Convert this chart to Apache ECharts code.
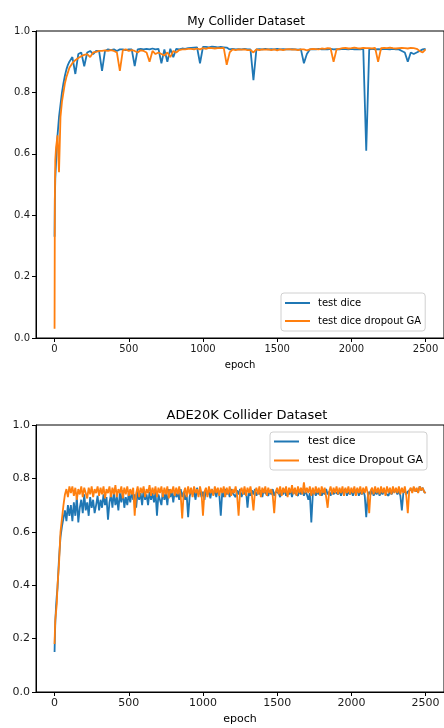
<!DOCTYPE html>
<html>
<head>
<meta charset="utf-8">
<script src="https://cdn.jsdelivr.net/npm/echarts@6/dist/echarts.min.js"></script>
<style>
  html, body { margin: 0; padding: 0; background: #fff; }
  #chart { width: 444px; height: 728px; }
</style>
</head>
<body>
<div id="chart"></div>
<script>
// My Collider Dataset: epochs sampled from the log (denser at the start)
var myEpochs = [0, 2, 5, 10, 15, 20, 30, 40, 50, 60, 70, 80, 90, 100,
  120, 140, 160, 180, 200, 220, 240, 260, 280, 300,
  320, 340, 360, 380, 400, 420, 440, 460, 480, 500,
  520, 540, 560, 580, 600, 620, 640, 660, 680, 700,
  720, 740, 760, 780, 800, 820, 840, 860, 880, 900,
  920, 940, 960, 980, 1000, 1020, 1040, 1060, 1080, 1100,
  1120, 1140, 1160, 1180, 1200, 1220, 1240, 1260, 1280, 1300,
  1320, 1340, 1360, 1380, 1400, 1420, 1440, 1460, 1480, 1500,
  1520, 1540, 1560, 1580, 1600, 1620, 1640, 1660, 1680, 1700,
  1720, 1740, 1760, 1780, 1800, 1820, 1840, 1860, 1880, 1900,
  1920, 1940, 1960, 1980, 2000, 2020, 2040, 2060, 2080, 2100,
  2120, 2140, 2160, 2180, 2200, 2220, 2240, 2260, 2280, 2300,
  2320, 2340, 2360, 2380, 2400, 2420, 2440, 2460, 2480, 2500];

var myDice = [0.33, 0.45, 0.52, 0.57, 0.62, 0.66, 0.72, 0.76, 0.80, 0.83, 0.855, 0.875, 0.89, 0.90,
  0.915, 0.86, 0.925, 0.93, 0.885, 0.93, 0.935, 0.925, 0.935, 0.935,
  0.87, 0.935, 0.94, 0.938, 0.94, 0.935, 0.94, 0.94, 0.938, 0.94,
  0.94, 0.886, 0.94, 0.942, 0.94, 0.942, 0.94, 0.943, 0.94, 0.942,
  0.895, 0.94, 0.90, 0.942, 0.915, 0.942, 0.94, 0.943, 0.942, 0.944,
  0.945, 0.946, 0.947, 0.895, 0.948, 0.948, 0.947, 0.949, 0.948, 0.947,
  0.948, 0.947, 0.946, 0.94, 0.942, 0.94, 0.941, 0.94, 0.942, 0.94,
  0.94, 0.84, 0.94, 0.941, 0.94, 0.942, 0.94, 0.941, 0.94, 0.942,
  0.94, 0.941, 0.94, 0.94, 0.941, 0.94, 0.939, 0.94, 0.895, 0.925,
  0.94, 0.941, 0.94, 0.942, 0.94, 0.941, 0.94, 0.942, 0.94, 0.941,
  0.94, 0.942, 0.941, 0.94, 0.942, 0.94, 0.941, 0.94, 0.942, 0.61,
  0.94, 0.942, 0.94, 0.941, 0.94, 0.942, 0.941, 0.94, 0.942, 0.94,
  0.94, 0.935, 0.93, 0.90, 0.93, 0.925, 0.93, 0.935, 0.94, 0.942];
var myDropout = [0.03, 0.45, 0.58, 0.62, 0.64, 0.66, 0.54, 0.72, 0.77, 0.80, 0.83, 0.85, 0.865, 0.88,
  0.895, 0.905, 0.912, 0.918, 0.922, 0.925, 0.915, 0.93, 0.932, 0.935,
  0.935, 0.937, 0.935, 0.938, 0.935, 0.93, 0.87, 0.937, 0.94, 0.935,
  0.938, 0.935, 0.93, 0.937, 0.935, 0.93, 0.90, 0.935, 0.925, 0.93,
  0.925, 0.92, 0.93, 0.915, 0.935, 0.93, 0.938, 0.94, 0.94, 0.942,
  0.942, 0.94, 0.943, 0.94, 0.944, 0.942, 0.945, 0.944, 0.943, 0.944,
  0.944, 0.945, 0.89, 0.93, 0.94, 0.938, 0.94, 0.939, 0.94, 0.938,
  0.938, 0.93, 0.94, 0.938, 0.94, 0.939, 0.94, 0.938, 0.94, 0.937,
  0.94, 0.938, 0.94, 0.941, 0.939, 0.94, 0.938, 0.94, 0.94, 0.937,
  0.94, 0.942, 0.941, 0.94, 0.943, 0.942, 0.944, 0.943, 0.90, 0.94,
  0.942, 0.944, 0.945, 0.943, 0.944, 0.946, 0.944, 0.943, 0.945, 0.944,
  0.944, 0.943, 0.945, 0.90, 0.944, 0.945, 0.944, 0.946, 0.944, 0.943,
  0.944, 0.945, 0.944, 0.943, 0.945, 0.944, 0.942, 0.935, 0.93, 0.94];

// ADE20K Collider Dataset: sampled every 10 epochs after 100
var adeEpochs = [0, 2, 5, 10, 15, 20, 30, 40, 50, 60, 70, 80, 90, 100,
  110, 120, 130, 140, 150, 160, 170, 180, 190, 200, 210, 220, 230, 240, 250, 260, 270, 280, 290, 300,
  310, 320, 330, 340, 350, 360, 370, 380, 390, 400, 410, 420, 430, 440, 450, 460, 470, 480, 490, 500,
  510, 520, 530, 540, 550, 560, 570, 580, 590, 600, 610, 620, 630, 640, 650, 660, 670, 680, 690, 700,
  710, 720, 730, 740, 750, 760, 770, 780, 790, 800, 810, 820, 830, 840, 850, 860, 870, 880, 890, 900,
  910, 920, 930, 940, 950, 960, 970, 980, 990, 1000, 1010, 1020, 1030, 1040, 1050, 1060, 1070, 1080, 1090, 1100,
  1110, 1120, 1130, 1140, 1150, 1160, 1170, 1180, 1190, 1200, 1210, 1220, 1230, 1240, 1250, 1260, 1270, 1280, 1290, 1300,
  1310, 1320, 1330, 1340, 1350, 1360, 1370, 1380, 1390, 1400, 1410, 1420, 1430, 1440, 1450, 1460, 1470, 1480, 1490, 1500,
  1510, 1520, 1530, 1540, 1550, 1560, 1570, 1580, 1590, 1600, 1610, 1620, 1630, 1640, 1650, 1660, 1670, 1680, 1690, 1700,
  1710, 1720, 1730, 1740, 1750, 1760, 1770, 1780, 1790, 1800, 1810, 1820, 1830, 1840, 1850, 1860, 1870, 1880, 1890, 1900,
  1910, 1920, 1930, 1940, 1950, 1960, 1970, 1980, 1990, 2000, 2010, 2020, 2030, 2040, 2050, 2060, 2070, 2080, 2090, 2100,
  2110, 2120, 2130, 2140, 2150, 2160, 2170, 2180, 2190, 2200, 2210, 2220, 2230, 2240, 2250, 2260, 2270, 2280, 2290, 2300,
  2310, 2320, 2330, 2340, 2350, 2360, 2370, 2380, 2390, 2400, 2410, 2420, 2430, 2440, 2450, 2460, 2470, 2480, 2490, 2500];

var adeDice = [0.15, 0.20, 0.26, 0.32, 0.36, 0.39, 0.50, 0.58, 0.62, 0.65, 0.68, 0.64, 0.70, 0.66,
  0.70, 0.64, 0.71, 0.66, 0.73, 0.635, 0.69, 0.72, 0.67, 0.74, 0.68, 0.71, 0.66, 0.73, 0.69, 0.72, 0.67, 0.70, 0.735, 0.68,
  0.72, 0.69, 0.74, 0.70, 0.73, 0.645, 0.71, 0.74, 0.69, 0.75, 0.70, 0.73, 0.68, 0.745, 0.71, 0.755, 0.69, 0.73, 0.70, 0.745,
  0.71, 0.75, 0.72, 0.74, 0.69, 0.755, 0.72, 0.745, 0.70, 0.76, 0.72, 0.74, 0.70, 0.75, 0.72, 0.745, 0.71, 0.75, 0.66, 0.74,
  0.72, 0.70, 0.755, 0.72, 0.745, 0.70, 0.76, 0.73, 0.75, 0.71, 0.755, 0.73, 0.745, 0.72, 0.76, 0.73, 0.75, 0.72, 0.74, 0.655,
  0.73, 0.76, 0.74, 0.75, 0.72, 0.765, 0.74, 0.755, 0.73, 0.75, 0.72, 0.76, 0.74, 0.75, 0.725, 0.76, 0.74, 0.755, 0.73, 0.76,
  0.74, 0.66, 0.75, 0.73, 0.76, 0.74, 0.755, 0.73, 0.76, 0.745, 0.75, 0.73, 0.755, 0.74, 0.76, 0.73, 0.75, 0.74, 0.755, 0.69,
  0.75, 0.735, 0.755, 0.74, 0.76, 0.735, 0.75, 0.74, 0.755, 0.73, 0.76, 0.745, 0.75, 0.735, 0.755, 0.74, 0.76, 0.735, 0.75, 0.745,
  0.745, 0.73, 0.755, 0.74, 0.76, 0.735, 0.75, 0.74, 0.755, 0.73, 0.76, 0.745, 0.75, 0.735, 0.755, 0.74, 0.76, 0.735, 0.75, 0.74,
  0.72, 0.745, 0.635, 0.74, 0.755, 0.735, 0.75, 0.74, 0.755, 0.735, 0.75, 0.74, 0.76, 0.74, 0.75, 0.735, 0.755, 0.74, 0.75, 0.745,
  0.74, 0.755, 0.735, 0.75, 0.745, 0.76, 0.735, 0.75, 0.74, 0.755, 0.735, 0.75, 0.745, 0.76, 0.735, 0.75, 0.74, 0.755, 0.735, 0.655,
  0.73, 0.75, 0.74, 0.755, 0.735, 0.75, 0.74, 0.755, 0.735, 0.75, 0.74, 0.755, 0.745, 0.75, 0.735, 0.755, 0.74, 0.75, 0.745, 0.755,
  0.74, 0.755, 0.735, 0.68, 0.745, 0.755, 0.74, 0.75, 0.745, 0.76, 0.75, 0.765, 0.755, 0.76, 0.75, 0.77, 0.755, 0.765, 0.75, 0.745];
var adeDropout = [0.18, 0.22, 0.27, 0.30, 0.33, 0.40, 0.48, 0.60, 0.65, 0.70, 0.74, 0.76, 0.73, 0.77,
  0.745, 0.77, 0.735, 0.765, 0.72, 0.76, 0.74, 0.77, 0.73, 0.765, 0.745, 0.725, 0.765, 0.74, 0.77, 0.73, 0.76, 0.745, 0.77, 0.735,
  0.765, 0.74, 0.77, 0.725, 0.76, 0.745, 0.77, 0.73, 0.765, 0.74, 0.775, 0.73, 0.76, 0.745, 0.77, 0.725, 0.765, 0.74, 0.77, 0.735,
  0.76, 0.74, 0.765, 0.66, 0.745, 0.77, 0.73, 0.765, 0.745, 0.77, 0.73, 0.76, 0.745, 0.775, 0.735, 0.765, 0.74, 0.77, 0.73, 0.765,
  0.745, 0.77, 0.73, 0.765, 0.74, 0.77, 0.725, 0.76, 0.745, 0.77, 0.735, 0.765, 0.74, 0.77, 0.735, 0.65, 0.745, 0.765, 0.73, 0.77,
  0.74, 0.765, 0.73, 0.77, 0.745, 0.76, 0.73, 0.77, 0.745, 0.66, 0.75, 0.765, 0.73, 0.77, 0.745, 0.76, 0.735, 0.77, 0.745, 0.765,
  0.735, 0.765, 0.745, 0.77, 0.73, 0.765, 0.74, 0.77, 0.735, 0.76, 0.745, 0.77, 0.735, 0.66, 0.75, 0.765, 0.74, 0.77, 0.735, 0.765,
  0.745, 0.77, 0.735, 0.68, 0.75, 0.765, 0.74, 0.77, 0.73, 0.765, 0.745, 0.77, 0.735, 0.765, 0.745, 0.76, 0.735, 0.67, 0.75, 0.765,
  0.74, 0.77, 0.735, 0.765, 0.745, 0.77, 0.73, 0.765, 0.745, 0.775, 0.74, 0.765, 0.735, 0.77, 0.745, 0.765, 0.74, 0.785, 0.745, 0.765,
  0.745, 0.77, 0.735, 0.765, 0.74, 0.77, 0.745, 0.765, 0.735, 0.77, 0.745, 0.765, 0.73, 0.69, 0.75, 0.77, 0.74, 0.765, 0.745, 0.77,
  0.74, 0.765, 0.745, 0.77, 0.735, 0.765, 0.745, 0.77, 0.74, 0.765, 0.745, 0.77, 0.735, 0.765, 0.745, 0.77, 0.74, 0.765, 0.745, 0.77,
  0.745, 0.67, 0.755, 0.765, 0.74, 0.77, 0.745, 0.765, 0.74, 0.77, 0.745, 0.765, 0.735, 0.77, 0.745, 0.765, 0.74, 0.77, 0.745, 0.765,
  0.745, 0.77, 0.74, 0.765, 0.745, 0.77, 0.735, 0.67, 0.755, 0.765, 0.745, 0.77, 0.75, 0.765, 0.745, 0.77, 0.755, 0.765, 0.75, 0.745];

var xTicks = [0, 500, 1000, 1500, 2000, 2500];

var FONT = 'DejaVu Sans';
var BLUE = '#1f77b4';
var ORANGE = '#ff7f0e';

function pairs(xs, ys) {
  return xs.map(function (e, i) { return [e, ys[i]]; });
}

function xAxisFor(idx, size) {
  return {
    type: 'value', gridIndex: idx, min: -125, max: 2624,
    name: 'epoch', nameLocation: 'middle', nameGap: 22,
    nameTextStyle: { fontFamily: FONT, fontSize: size, color: '#000' },
    axisLine: { show: true, onZero: false, lineStyle: { color: '#000', width: 1 } },
    axisTick: { show: true, length: 4, customValues: xTicks, lineStyle: { color: '#000' } },
    axisLabel: {
      customValues: xTicks, fontFamily: FONT, fontSize: size, color: '#1a1a1a', margin: 6,
      formatter: function (v) { return String(v); }
    },
    splitLine: { show: false }
  };
}

function yAxisFor(idx, size) {
  return {
    type: 'value', gridIndex: idx, min: 0, max: 1, interval: 0.2,
    axisLine: { show: true, onZero: false, lineStyle: { color: '#000', width: 1 } },
    axisTick: { show: true, length: 4, lineStyle: { color: '#000' } },
    axisLabel: {
      fontFamily: FONT, fontSize: size, color: '#1a1a1a', margin: 6,
      formatter: function (v) { return v.toFixed(1); }
    },
    splitLine: { show: false }
  };
}

function line(name, xs, ys, color, idx) {
  return {
    name: name, type: 'line', xAxisIndex: idx, yAxisIndex: idx,
    data: pairs(xs, ys), showSymbol: false, symbol: 'none',
    lineStyle: { color: color, width: 1.8 }, itemStyle: { color: color }
  };
}

var chart = echarts.init(document.getElementById('chart'));
chart.setOption({
  backgroundColor: '#fff',
  animation: false,
  title: [
    { text: 'My Collider Dataset', left: 241, top: 11, textAlign: 'center',
      textStyle: { fontFamily: FONT, fontSize: 12, fontWeight: 'normal', color: '#000' } },
    { text: 'ADE20K Collider Dataset', left: 242, top: 404, textAlign: 'center',
      textStyle: { fontFamily: FONT, fontSize: 13, fontWeight: 'normal', color: '#000' } }
  ],
  legend: [
    { orient: 'vertical', left: 281, top: 293, padding: [4, 4],
      data: ['test dice', 'test dice dropout GA'],
      icon: 'rect', itemWidth: 25, itemHeight: 2, itemGap: 6,
      textStyle: { fontFamily: FONT, fontSize: 10, color: '#000', lineHeight: 12, padding: [0, 0, 0, 3] },
      borderColor: '#d0d0d0', borderWidth: 1, borderRadius: 3, backgroundColor: 'rgba(255,255,255,0.8)' },
    { orient: 'vertical', left: 270, top: 432, padding: [3, 4],
      data: ['test dice', 'test dice Dropout GA'],
      icon: 'rect', itemWidth: 25, itemHeight: 2, itemGap: 6,
      textStyle: { fontFamily: FONT, fontSize: 11, color: '#000', lineHeight: 13, padding: [0, 0, 0, 4] },
      borderColor: '#d0d0d0', borderWidth: 1, borderRadius: 3, backgroundColor: 'rgba(255,255,255,0.8)' }
  ],
  grid: [
    { left: 36, top: 31, width: 411, height: 307, show: true, borderColor: '#000', borderWidth: 1, backgroundColor: 'transparent' },
    { left: 36, top: 425, width: 411, height: 267, show: true, borderColor: '#000', borderWidth: 1, backgroundColor: 'transparent' }
  ],
  xAxis: [xAxisFor(0, 10), xAxisFor(1, 11)],
  yAxis: [yAxisFor(0, 10), yAxisFor(1, 11)],
  series: [
    line('test dice', myEpochs, myDice, BLUE, 0),
    line('test dice dropout GA', myEpochs, myDropout, ORANGE, 0),
    line('test dice', adeEpochs, adeDice, BLUE, 1),
    line('test dice Dropout GA', adeEpochs, adeDropout, ORANGE, 1)
  ]
});
</script>
</body>
</html>
